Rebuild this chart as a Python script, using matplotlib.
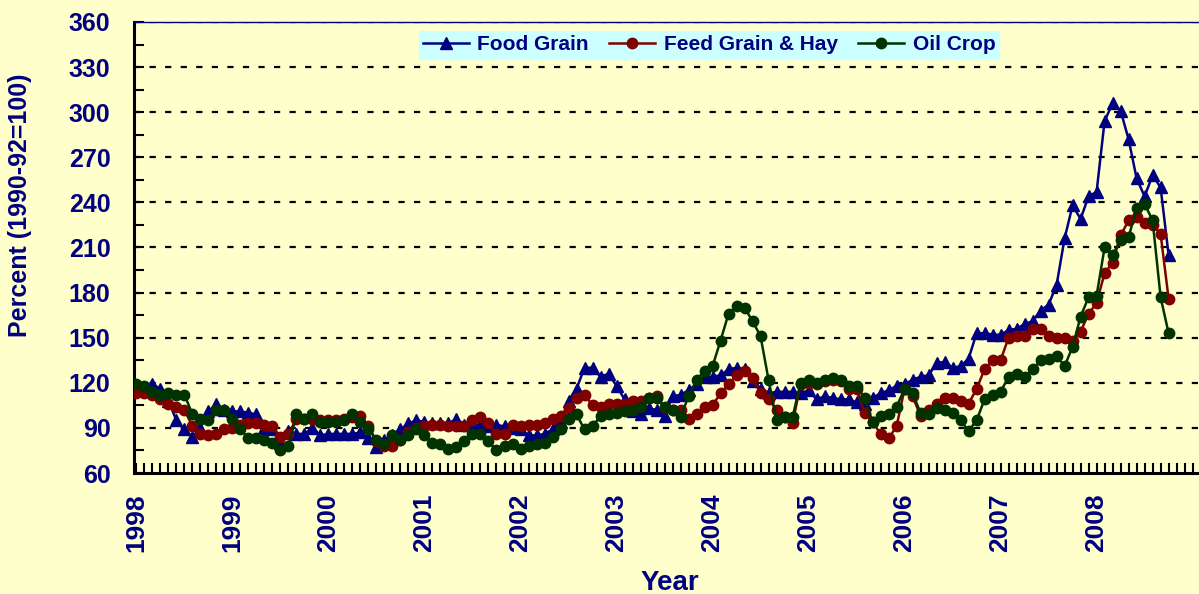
import numpy as np
import matplotlib
matplotlib.use("Agg")
import matplotlib.pyplot as plt
from matplotlib.ticker import MultipleLocator, FixedLocator

# monthly index, Jan 1998 .. Oct 2008 (1990-92=100)
food_grain = [117, 117, 119, 116, 108, 95, 89, 84, 90, 101,
              106, 102, 101, 101, 100, 99, 90, 89, 80, 88,
              86, 86, 90, 85, 86, 86, 86, 86, 87, 83,
              77, 82, 85, 89, 93, 95, 94, 93, 93, 93,
              96, 92, 92, 92, 91, 92, 91, 90, 89, 85,
              85, 86, 89, 94, 108, 116, 130, 130, 124, 126,
              118, 109, 101, 99, 103, 102, 98, 111, 112, 115,
              119, 124, 124, 125, 129, 130, 129, 121, 116, 113,
              114, 114, 114, 113, 115, 109, 111, 110, 109, 109,
              107, 106, 110, 113, 115, 118, 119, 122, 124, 125,
              133, 134, 130, 131, 136, 153, 153, 152, 152, 155,
              156, 159, 161, 168, 172, 185, 216, 238, 229, 244,
              247, 294, 306, 301, 282, 256, 244, 258, 250, 205]

feed_grain_hay = [113, 113, 112, 109, 106, 104, 102, 91, 86, 85,
                  86, 89, 90, 92, 93, 93, 92, 91, 84, 86,
                  96, 96, 96, 95, 95, 95, 96, 97, 98, 91,
                  81, 78, 78, 82, 87, 90, 91, 92, 92, 91,
                  91, 91, 95, 97, 93, 86, 86, 92, 91, 92,
                  92, 93, 96, 98, 103, 110, 112, 105, 104, 106,
                  106, 106, 108, 108, 110, 111, 103, 102, 102, 96,
                  99, 104, 105, 113, 119, 125, 128, 123, 113, 109,
                  102, 97, 93, 119, 120, 119, 121, 122, 121, 116,
                  116, 100, 94, 86, 83, 91, 116, 111, 98, 102,
                  106, 110, 110, 108, 106, 116, 129, 135, 135, 150,
                  151, 151, 156, 156, 151, 150, 150, 148, 154, 166,
                  173, 193, 200, 218, 228, 230, 226, 225, 219, 176]

oil_crop = [119, 118, 114, 112, 113, 112, 112, 99, 96, 95,
            102, 102, 96, 89, 83, 83, 82, 80, 75, 78,
            99, 96, 99, 94, 94, 94, 95, 99, 94, 89,
            82, 79, 85, 82, 85, 89, 85, 80, 79, 76,
            77, 81, 86, 86, 81, 75, 78, 79, 76, 78,
            79, 80, 84, 89, 96, 99, 89, 91, 98, 99,
            100, 101, 102, 104, 110, 110, 104, 102, 97, 111,
            122, 128, 131, 148, 166, 171, 170, 161, 151, 122,
            95, 97, 97, 120, 122, 120, 122, 123, 122, 118,
            118, 110, 94, 98, 99, 104, 116, 113, 100, 99,
            103, 102, 100, 95, 88, 95, 109, 112, 114, 124,
            126, 124, 129, 135, 136, 138, 131, 144, 164, 177,
            178, 210, 205, 215, 217, 236, 239, 228, 177, 153]

years = [str(y) for y in range(1998, 2009)]

BG = "#FFFFCC"
NAVY = "#000080"

plt.rcParams['font.family'] = ['Liberation Sans', 'DejaVu Sans']
plt.rcParams['font.weight'] = 'bold'

fig = plt.figure(figsize=(11.99, 5.94), dpi=100, facecolor=BG)
ax = fig.add_axes([0.1118, 0.2037, 0.8882, 0.7593], facecolor=BG)

x = np.arange(len(food_grain))
ax.plot(x, food_grain, color=NAVY, lw=1.8, marker='^', ms=8, label='Food Grain', zorder=3)
ax.plot(x, feed_grain_hay, color='#800000', lw=1.8, marker='o', ms=7.5, label='Feed Grain & Hay', zorder=4)
ax.plot(x, oil_crop, color='#003300', lw=1.8, marker='o', ms=7.5, label='Oil Crop', zorder=5)

ax.set_xlim(-0.3, 132.8)
ax.set_ylim(60, 360)

ax.yaxis.set_major_locator(MultipleLocator(30))
ax.yaxis.set_minor_locator(MultipleLocator(15))
ax.xaxis.set_major_locator(FixedLocator(np.arange(0, 121, 12)))
ax.xaxis.set_minor_locator(MultipleLocator(1))
ax.set_xticklabels(years, rotation=90)

ax.tick_params(axis='both', which='both', direction='in', color='black', width=1.5, length=7)
ax.tick_params(axis='y', which='major', labelsize=18, labelcolor=NAVY, pad=17)
ax.tick_params(axis='x', which='major', labelsize=19, labelcolor=NAVY, pad=15)

for yv in range(90, 361, 30):
    ax.axhline(yv, color='black', lw=1.6, ls=(0, (2.8, 4.2)), zorder=1)

ax.spines['right'].set_visible(False)
ax.spines['top'].set_color(NAVY)
ax.spines['top'].set_linewidth(1)
ax.spines['left'].set_linewidth(2.2)
ax.spines['bottom'].set_linewidth(2.2)

ax.set_ylabel('Percent (1990-92=100)', fontsize=18, color=NAVY, fontweight='bold')
ax.yaxis.set_label_coords(-0.0958, 0.594)
ax.set_xlabel('Year', fontsize=20, color=NAVY, fontweight='bold')
ax.xaxis.set_label_coords(0.503, -0.214)

leg = ax.legend(loc='center', bbox_to_anchor=(0.54, 0.949), ncol=3, frameon=True,
                fancybox=False, fontsize=15, handlelength=2.2, columnspacing=1.0,
                handletextpad=0.4, borderpad=0.2)
leg.get_frame().set_facecolor('#CCFFFF')
leg.get_frame().set_edgecolor('#CCFFFF')
leg.get_frame().set_alpha(1)
for t in leg.get_texts():
    t.set_color(NAVY)

fig.savefig('out.png', dpi=100, facecolor=BG)
